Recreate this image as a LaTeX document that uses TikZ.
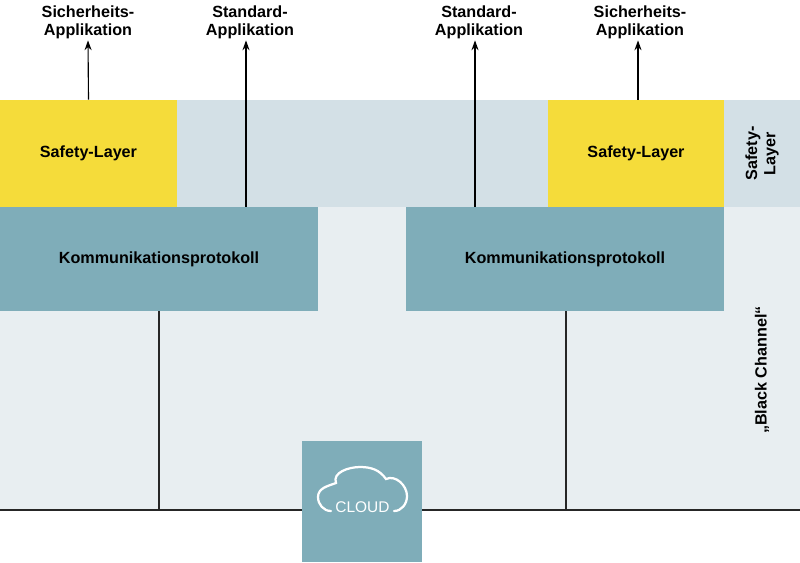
\documentclass[tikz,border=0pt]{standalone}
\usepackage{fontspec}
\setmainfont{Liberation Sans}
\usetikzlibrary{positioning, arrows.meta}
\definecolor{bandblue}{HTML}{D3E0E6}
\definecolor{protblue}{HTML}{7FADB9}
\definecolor{safeyellow}{HTML}{F5DC3A}
\definecolor{groundgray}{HTML}{E8EEF1}
\tikzset{
  box/.style={rectangle, draw=none, inner sep=0, align=center, font=\bfseries\fontsize{11.5}{13}\selectfont},
  arrow/.style={-{Stealth[length=7pt,width=5pt]}, thick},
  wire/.style={draw=black!85, line width=0.8pt},
  label/.style={align=center, font=\bfseries\fontsize{11.5}{13}\selectfont, inner sep=1pt}
}
\begin{document}
\begin{tikzpicture}[x=0.025cm, y=-0.025cm]
  \useasboundingbox (0,0) rectangle (800,562);
  % Backgrounds
  \fill[bandblue] (0,100) rectangle (800,207);
  \fill[groundgray] (0,207) rectangle (800,510);
  % Layers
  \node[box, fill=safeyellow, minimum width=4.425cm, minimum height=2.675cm] (safeL) at (88.5,153.5) {Safety-Layer};
  \node[box, fill=safeyellow, minimum width=4.4cm, minimum height=2.675cm] (safeR) at (636,153.5) {Safety-Layer};
  \node[box, fill=protblue, minimum width=7.95cm, minimum height=2.6cm] (protL) at (159,259) {Kommunikationsprotokoll};
  \node[box, fill=protblue, minimum width=7.95cm, minimum height=2.6cm] (protR) at (565,259) {Kommunikationsprotokoll};
  \node[box, rotate=90] (safeSide) at (762,153.5) {Safety-\\Layer};
  \node[box, rotate=90] (black) at (762,370) {„Black Channel“};
  % Applications
  \node[label] (appSL) at (88,22) {Sicherheits-\\Applikation};
  \node[label] (appStL) at (250,22) {Standard-\\Applikation};
  \node[label] (appStR) at (479,22) {Standard-\\Applikation};
  \node[label] (appSR) at (640,22) {Sicherheits-\\Applikation};
  \draw[arrow] (safeL.north) -- (appSL.south);
  \draw[arrow] (protL.north -| 246,0) -- (appStL.south -| 246,0);
  \draw[arrow] (protR.north -| 475,0) -- (appStR.south -| 475,0);
  \draw[arrow] (safeR.north -| 638,0) -- (appSR.south -| 638,0);
  % Bus
  \coordinate (busL) at (0,510);
  \coordinate (busR) at (800,510);
  \draw[wire] (busL) -- (busR);
  \draw[wire] (protL.south) -- (protL.south |- busL);
  \draw[wire] (protR.south -| 566,0) -- (566,510);
  % Cloud
  \node[box, fill=protblue, minimum width=3cm, minimum height=3.025cm] (cloud) at (362,501.5) {};
  \draw[white, line width=1.6pt, line cap=round]
    (331,511) to[out=180,in=-90] (318,497) to[out=90,in=200] (336,483)
    to[out=110,in=180] (360,467) to[out=0,in=125] (386,479)
    to[out=25,in=90] (407,496) to[out=-90,in=0] (394,511);
  \node[white, font=\fontsize{11}{12}\selectfont, inner sep=0] (cloudtxt) at (362.5,507) {CLOUD};
\end{tikzpicture}
\end{document}
